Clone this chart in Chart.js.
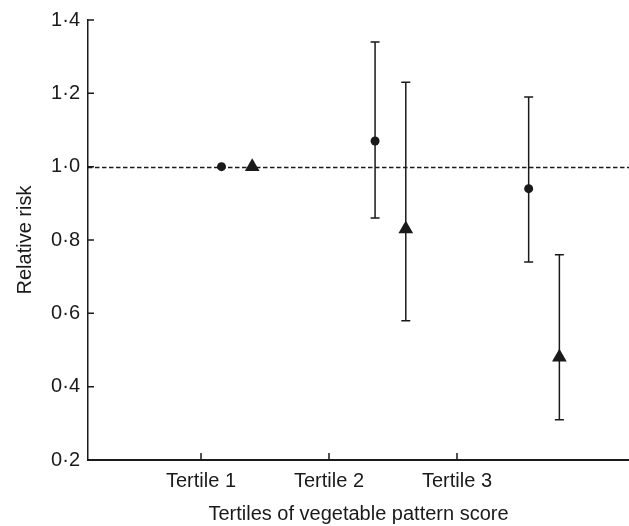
<!DOCTYPE html>
<html>
<head>
<meta charset="utf-8">
<script src="https://cdn.jsdelivr.net/npm/chart.js@4.4.1/dist/chart.umd.min.js"></script>
<style>
  html, body { margin: 0; padding: 0; background: #fff; }
  #wrap { width: 629px; height: 526px; }
</style>
</head>
<body>
<div id="wrap"><canvas id="chart" width="629" height="526"></canvas></div>
<script>
// categories and where their ticks sit on the x scale
const categories = ['Tertile 1', 'Tertile 2', 'Tertile 3'];
const tickPos = [1, 2, 3];

// circle series (relative risk + 95% CI)
const circleX = [1.16, 2.36, 3.56];
const circleRR = [1.00, 1.07, 0.94];
const circleLo = [null, 0.86, 0.74];
const circleHi = [null, 1.34, 1.19];

// triangle series
const triX = [1.40, 2.60, 3.80];
const triRR = [1.00, 0.83, 0.48];
const triLo = [null, 0.58, 0.31];
const triHi = [null, 1.23, 0.76];

const yTicks = [0.2, 0.4, 0.6, 0.8, 1.0, 1.2, 1.4];
const yTickLabels = ['0·2', '0·4', '0·6', '0·8', '1·0', '1·2', '1·4'];
const refLine = 1.0;

const ink = '#1a1a1a';
const font = "'Liberation Sans', Arial, sans-serif";

const extras = {
    id: 'extras',
    beforeDatasetsDraw(chart) {
        const ctx = chart.ctx;
        const xs = chart.scales.x, ys = chart.scales.y;
        const area = chart.chartArea;
        ctx.save();
        // reference line at RR = 1
        ctx.strokeStyle = ink;
        ctx.lineWidth = 1.5;
        ctx.setLineDash([4.5, 2.5]);
        const yr = Math.round(ys.getPixelForValue(refLine)) + 0.5;
        ctx.beginPath();
        ctx.moveTo(area.left, yr);
        ctx.lineTo(area.right, yr);
        ctx.stroke();
        ctx.setLineDash([]);
        // error bars
        ctx.lineWidth = 1.5;
        const bars = (xv, lo, hi) => {
            xv.forEach((v, i) => {
                if (lo[i] == null) return;
                const x = xs.getPixelForValue(v);
                const y1 = ys.getPixelForValue(lo[i]);
                const y2 = ys.getPixelForValue(hi[i]);
                ctx.beginPath();
                ctx.moveTo(x, y1); ctx.lineTo(x, y2);
                ctx.moveTo(x - 4.5, y1); ctx.lineTo(x + 4.5, y1);
                ctx.moveTo(x - 4.5, y2); ctx.lineTo(x + 4.5, y2);
                ctx.stroke();
            });
        };
        bars(circleX, circleLo, circleHi);
        bars(triX, triLo, triHi);
        ctx.restore();
    },
    afterDraw(chart) {
        // ticks on both axes point into the plot
        const ctx = chart.ctx;
        const xs = chart.scales.x, ys = chart.scales.y;
        const a = chart.chartArea;
        ctx.save();
        ctx.strokeStyle = ink;
        ctx.lineWidth = 1.5;
        ctx.beginPath();
        tickPos.forEach(v => {
            const x = xs.getPixelForValue(v);
            ctx.moveTo(x, a.bottom);
            ctx.lineTo(x, a.bottom - 7);
        });
        yTicks.forEach(v => {
            const y = ys.getPixelForValue(v);
            ctx.moveTo(a.left, y);
            ctx.lineTo(a.left + 6, y);
        });
        ctx.stroke();
        ctx.restore();
    }
};

new Chart(document.getElementById('chart'), {
    type: 'scatter',
    data: {
        datasets: [{
            label: 'circle',
            data: circleX.map((x, i) => ({ x: x, y: circleRR[i] })),
            pointStyle: 'circle',
            pointRadius: 4.5,
            backgroundColor: ink,
            borderColor: ink,
            borderWidth: 0
        }, {
            label: 'triangle',
            data: triX.map((x, i) => ({ x: x, y: triRR[i] })),
            pointStyle: 'triangle',
            pointRadius: 8.5,
            backgroundColor: ink,
            borderColor: ink,
            borderWidth: 0
        }]
    },
    options: {
        responsive: false,
        animation: false,
        events: [],
        layout: { autoPadding: false, padding: { top: 18, right: 0, left: 0, bottom: 0 } },
        plugins: { legend: { display: false }, tooltip: { enabled: false } },
        scales: {
            x: {
                type: 'linear',
                min: 0.117,
                max: 4.344,
                afterBuildTicks: s => { s.ticks = tickPos.map(v => ({ value: v })); },
                afterFit: s => { s.height = 66; },
                grid: { display: false, drawTicks: false },
                border: { display: true, color: ink, width: 2 },
                ticks: {
                    padding: 9,
                    color: ink,
                    font: { family: font, size: 20 },
                    callback: v => categories[tickPos.indexOf(v)]
                },
                title: {
                    display: true,
                    text: 'Tertiles of vegetable pattern score',
                    color: ink,
                    font: { family: font, size: 20 },
                    padding: { top: 10, bottom: 0 }
                }
            },
            y: {
                min: 0.2,
                max: 1.4,
                afterBuildTicks: s => { s.ticks = yTicks.map(v => ({ value: v })); },
                afterFit: s => { s.width = 88; },
                grid: { display: false, drawTicks: false },
                border: { display: true, color: ink, width: 1.5 },
                ticks: {
                    padding: 8,
                    color: ink,
                    font: { family: font, size: 20 },
                    callback: v => yTickLabels[yTicks.findIndex(t => Math.abs(t - v) < 1e-6)]
                },
                title: {
                    display: true,
                    text: 'Relative risk',
                    color: ink,
                    font: { family: font, size: 20 },
                    padding: { top: 13, bottom: 0 }
                }
            }
        }
    },
    plugins: [extras]
});
</script>
</body>
</html>
